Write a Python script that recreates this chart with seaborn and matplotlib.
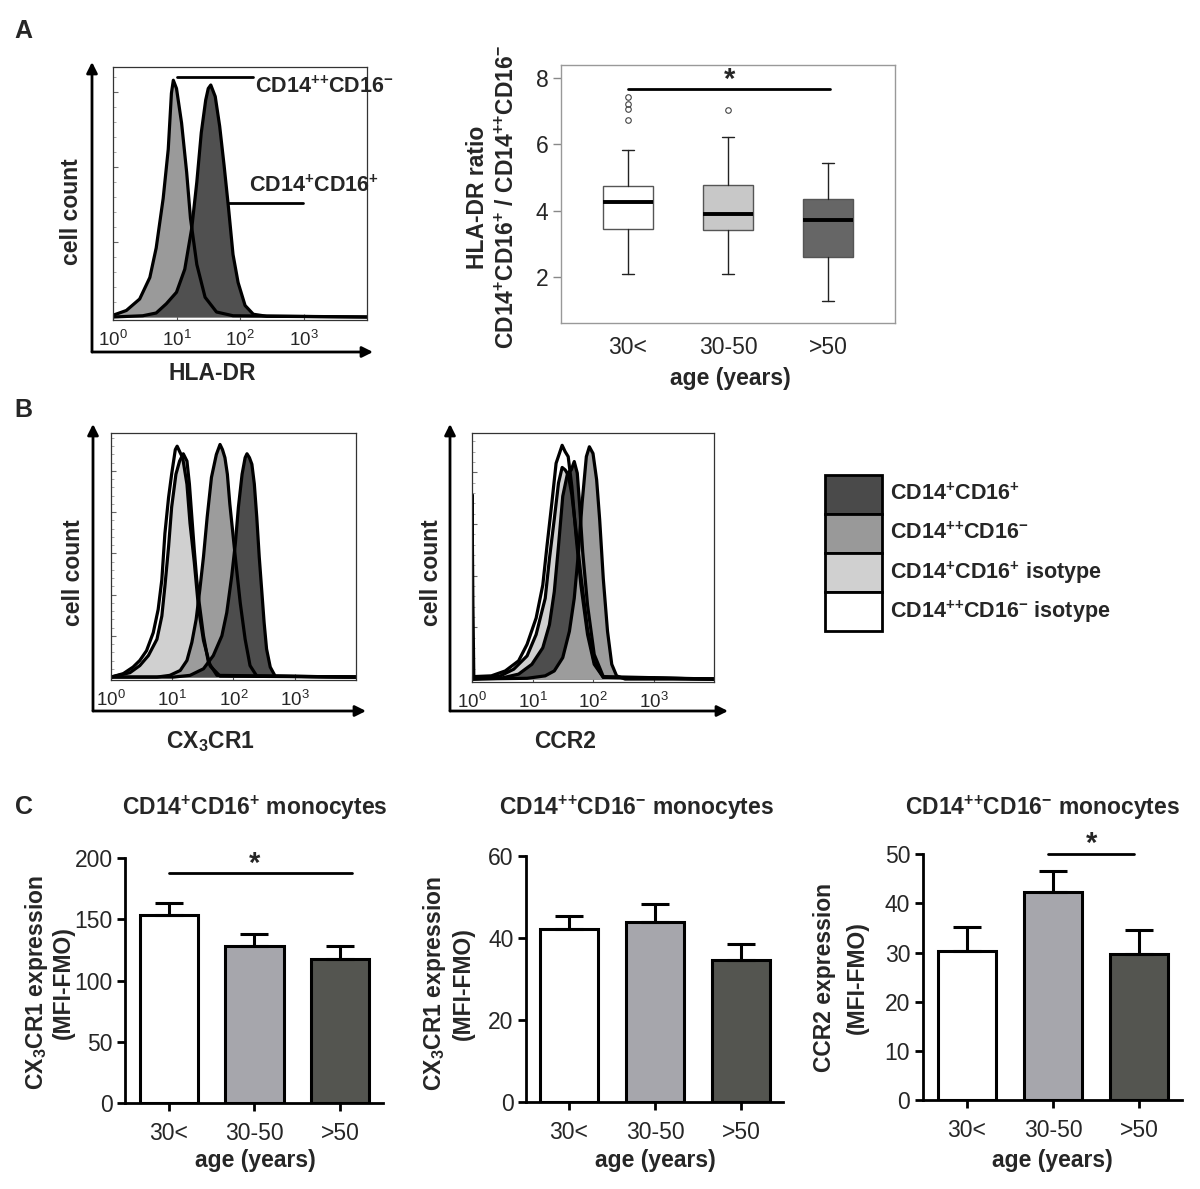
import numpy as np
import matplotlib
matplotlib.use("Agg")
import matplotlib.pyplot as plt
from matplotlib.patches import FancyArrowPatch, Rectangle
from matplotlib.ticker import MultipleLocator, LogLocator, NullFormatter
import seaborn as sns

# ---------------- data ----------------
# panel A histograms (log10 intensity, relative height)
a_mono_x = [0.0, 0.21, 0.42, 0.58, 0.68, 0.79, 0.87, 0.92, 0.95, 1.0, 1.08, 1.16, 1.22, 1.32, 1.45, 1.63, 1.89]
a_mono_y = [0.007, 0.026, 0.072, 0.158, 0.276, 0.474, 0.671, 0.895, 0.947, 0.914, 0.776, 0.579, 0.395, 0.21, 0.079, 0.02, 0.005]
a_cd16_x = [0.47, 0.68, 0.84, 1.0, 1.13, 1.24, 1.32, 1.39, 1.46, 1.5, 1.54, 1.61, 1.68, 1.75, 1.82, 1.89, 1.97, 2.08, 2.21, 2.42]
a_cd16_y = [0.005, 0.016, 0.053, 0.099, 0.191, 0.355, 0.54, 0.737, 0.868, 0.914, 0.928, 0.882, 0.763, 0.605, 0.434, 0.25, 0.138, 0.046, 0.011, 0.003]

# panel B, CX3CR1
cx_isohi_x = [0.0, 0.20, 0.36, 0.47, 0.58, 0.69, 0.77, 0.83, 0.88, 0.94, 0.99, 1.05, 1.08, 1.13, 1.17, 1.24, 1.29, 1.36, 1.43, 1.51, 1.62, 1.78]
cx_isohi_y = [0.0, 0.014, 0.041, 0.068, 0.108, 0.182, 0.277, 0.399, 0.588, 0.736, 0.831, 0.932, 0.946, 0.919, 0.899, 0.79, 0.63, 0.47, 0.28, 0.15, 0.045, 0.004]
cx_isolo_x = [0.0, 0.31, 0.47, 0.61, 0.75, 0.83, 0.88, 0.94, 0.99, 1.06, 1.12, 1.18, 1.24, 1.28, 1.32, 1.36, 1.40, 1.44, 1.51, 1.59, 1.73]
cx_isolo_y = [0.0, 0.018, 0.047, 0.088, 0.155, 0.25, 0.372, 0.534, 0.696, 0.831, 0.885, 0.915, 0.885, 0.791, 0.655, 0.52, 0.399, 0.304, 0.169, 0.061, 0.007]
cx_mono_x = [0.75, 0.96, 1.13, 1.24, 1.32, 1.39, 1.45, 1.51, 1.57, 1.64, 1.72, 1.78, 1.82, 1.86, 1.90, 1.94, 1.99, 2.04, 2.11, 2.19, 2.27, 2.38]
cx_mono_y = [0.0, 0.007, 0.027, 0.068, 0.142, 0.236, 0.358, 0.493, 0.655, 0.818, 0.912, 0.953, 0.932, 0.899, 0.831, 0.709, 0.588, 0.466, 0.304, 0.155, 0.047, 0.004]
cx_cd16_x = [1.02, 1.29, 1.51, 1.67, 1.81, 1.89, 1.97, 2.03, 2.08, 2.14, 2.19, 2.22, 2.26, 2.30, 2.34, 2.38, 2.42, 2.46, 2.50, 2.54, 2.60, 2.68]
cx_cd16_y = [0.0, 0.007, 0.034, 0.088, 0.169, 0.264, 0.412, 0.547, 0.696, 0.831, 0.899, 0.915, 0.899, 0.872, 0.791, 0.655, 0.493, 0.358, 0.223, 0.115, 0.041, 0.004]

# panel B, CCR2
cc_isohi_x = [0.0, 0.0, 0.015, 0.03, 0.32, 0.55, 0.77, 0.91, 1.06, 1.17, 1.24, 1.32, 1.39, 1.49, 1.54, 1.59, 1.65, 1.72, 1.80, 1.91, 2.02, 2.17]
cc_isohi_y = [0.0, 0.75, 0.3, 0.01, 0.013, 0.033, 0.074, 0.141, 0.248, 0.382, 0.542, 0.716, 0.877, 0.95, 0.924, 0.904, 0.783, 0.582, 0.382, 0.181, 0.06, 0.007]
cc_isolo_x = [0.18, 0.47, 0.69, 0.91, 1.06, 1.21, 1.28, 1.36, 1.43, 1.49, 1.54, 1.59, 1.65, 1.72, 1.80, 1.91, 2.02, 2.17]
cc_isolo_y = [0.003, 0.013, 0.04, 0.094, 0.181, 0.328, 0.489, 0.65, 0.797, 0.86, 0.85, 0.83, 0.75, 0.6, 0.42, 0.2, 0.07, 0.007]
cc_cd16_x = [0.47, 0.77, 0.99, 1.17, 1.28, 1.36, 1.43, 1.50, 1.58, 1.64, 1.69, 1.74, 1.78, 1.83, 1.91, 2.02, 2.17]
cc_cd16_y = [0.003, 0.02, 0.06, 0.127, 0.221, 0.355, 0.542, 0.743, 0.837, 0.85, 0.884, 0.837, 0.703, 0.516, 0.3, 0.1, 0.01]
cc_mono_x = [0.91, 1.21, 1.36, 1.50, 1.61, 1.69, 1.76, 1.82, 1.89, 1.94, 2.00, 2.06, 2.11, 2.17, 2.24, 2.31, 2.39, 2.53]
cc_mono_y = [0.003, 0.013, 0.033, 0.087, 0.194, 0.328, 0.516, 0.716, 0.904, 0.944, 0.917, 0.81, 0.649, 0.408, 0.194, 0.06, 0.013, 0.0]

# panel A boxplot (HLA-DR ratio)
age_groups = ["30<", "30-50", ">50"]
box_whislo = [2.08, 2.08, 1.28]
box_q1 = [3.45, 3.42, 2.60]
box_med = [4.26, 3.90, 3.72]
box_q3 = [4.75, 4.78, 4.36]
box_whishi = [5.82, 6.20, 5.42]
box_fliers = [[6.73, 7.05, 7.20, 7.41], [7.03], []]

# panel C bars
c1_vals = [153.3, 128.0, 117.2]
c1_err = [9.7, 9.6, 10.8]
c2_vals = [42.1, 43.8, 34.6]
c2_err = [3.3, 4.3, 3.8]
c3_vals = [30.3, 42.3, 29.7]
c3_err = [5.0, 4.2, 4.8]

# colours
col_dark = "#4d4d4d"
col_gray = "#9c9c9c"
col_light = "#d0d0d0"
box_colors = ["white", "#c8c8c8", "#666666"]
bar_colors = ["white", "#a5a5ad", "#55564f"]

# ---------------- style ----------------
sns.set_style("white")
plt.rcParams["font.family"] = ["Liberation Sans", "DejaVu Sans"]
plt.rcParams["mathtext.fontset"] = "custom"
plt.rcParams["mathtext.rm"] = "Liberation Sans"
plt.rcParams["mathtext.bf"] = "Liberation Sans:bold"
plt.rcParams["mathtext.it"] = "Liberation Sans:italic"

P = r"$^{\mathbf{+}}$"
PP = r"$^{\mathbf{+\!+}}\!$"
M = r"$^{\mathbf{-}}$"
CD16pos = "CD14" + P + "CD16" + P
CD16neg = "CD14" + PP + "CD16" + M
CX3 = r"CX$_{\mathbf{3}}$CR1"

W, H = 1200, 1189
FS = 16.5
fig = plt.figure(figsize=(12, 11.89), dpi=100)


def px_axes(l, t, r, b):
    return fig.add_axes([l / W, 1 - b / H, (r - l) / W, (b - t) / H])


def ftext(x, y, s, **kw):
    kw.setdefault("ha", "center")
    kw.setdefault("va", "center")
    fig.text(x / W, 1 - y / H, s, **kw)


def arrow(x0, y0, x1, y1):
    fig.add_artist(FancyArrowPatch((x0 / W, 1 - y0 / H), (x1 / W, 1 - y1 / H),
                                   transform=fig.transFigure, arrowstyle="-|>",
                                   mutation_scale=16, lw=2, color="black",
                                   shrinkA=0, shrinkB=0))


def fline(x0, x1, y):
    fig.add_artist(plt.Line2D([x0 / W, x1 / W], [1 - y / H, 1 - y / H],
                              transform=fig.transFigure, color="black", lw=2))


def hist_panel(ax, curves, ymajor):
    ax.set_xscale("log")
    for xs, ys, col in curves:
        lx = 10 ** np.array([0.0] + xs + [4.0])
        ly = [0.0] + ys + [0.0]
        ax.fill_between(lx, ly, 0, color=col, lw=0)
        sns.lineplot(x=lx, y=ly, ax=ax, color="black", lw=2.3, sort=False, estimator=None)
    ax.set_xlim(1, 1e4)
    ax.set_ylim(-0.012, 1)
    ax.set_xticks([1, 10, 100, 1000])
    ax.set_xticklabels([r"$\mathrm{10^{0}}$", r"$\mathrm{10^{1}}$", r"$\mathrm{10^{2}}$", r"$\mathrm{10^{3}}$"])
    ax.xaxis.set_minor_locator(LogLocator(base=10, subs=np.arange(2, 10)))
    ax.xaxis.set_minor_formatter(NullFormatter())
    ax.yaxis.set_major_locator(MultipleLocator(ymajor))
    ax.yaxis.set_minor_locator(MultipleLocator(ymajor / 5))
    ax.set_yticklabels([])
    ax.tick_params(axis="x", which="major", direction="in", length=4, width=0.8, color="#555",
                   labelsize=13.5, pad=7, bottom=True)
    ax.tick_params(axis="x", which="minor", direction="in", length=2.5, width=0.6, color="#777", bottom=True)
    ax.tick_params(axis="y", which="major", direction="in", length=3.5, width=0.8, color="#666", left=True)
    ax.tick_params(axis="y", which="minor", direction="in", length=2, width=0.5, color="#888", left=True)
    for s in ax.spines.values():
        s.set_color("#333")
        s.set_linewidth(0.9)
    ax.set_xlabel("")
    ax.set_ylabel("")


# ---------------- panel A: histogram ----------------
axA = px_axes(113, 67, 367, 320)
hist_panel(axA, [(a_mono_x, a_mono_y, "#9a9a9a"), (a_cd16_x, a_cd16_y, "#505050")], 0.3)
arrow(92, 352, 92, 62)
arrow(92, 352, 373, 352)
ftext(72, 212, "cell count", rotation=90, fontsize=FS, fontweight="bold")
ftext(212, 374, "HLA-DR", fontsize=FS, fontweight="bold")
fline(177, 253, 77)
ftext(255, 87, CD16neg, ha="left", fontsize=15.5, fontweight="bold")
fline(228, 303, 203)
ftext(249, 186, CD16pos, ha="left", fontsize=15.5, fontweight="bold")

# ---------------- panel A: boxplot ----------------
axBox = px_axes(561, 65, 895, 323)
stats = []
for i in range(3):
    stats.append(dict(med=box_med[i], q1=box_q1[i], q3=box_q3[i], whislo=box_whislo[i],
                      whishi=box_whishi[i], fliers=box_fliers[i]))
bp = axBox.bxp(stats, positions=[0, 1, 2], widths=0.5, patch_artist=True, showfliers=True,
               boxprops=dict(edgecolor="#555555", lw=1.0),
               medianprops=dict(color="black", lw=2.8),
               whiskerprops=dict(color="#222222", lw=1.0),
               capprops=dict(color="#222222", lw=1.0),
               flierprops=dict(marker="o", mfc="none", mec="#444444", ms=4, mew=0.8),
               capwidths=0.12)
for patch, c in zip(bp["boxes"], box_colors):
    patch.set_facecolor(c)
axBox.set_xlim(-0.67, 2.67)
axBox.set_ylim(0.62, 8.38)
axBox.set_xticks([0, 1, 2])
axBox.set_xticklabels(age_groups)
axBox.set_yticks([2, 4, 6, 8])
axBox.tick_params(axis="x", length=0, labelsize=FS, pad=9)
axBox.tick_params(axis="y", direction="out", length=6, width=1, color="#888", labelsize=FS, pad=3, left=True)
for s in axBox.spines.values():
    s.set_color("#999999")
    s.set_linewidth(1.0)
axBox.plot([0, 2.02], [7.66, 7.66], color="black", lw=2, clip_on=False)
axBox.text(1.02, 7.68, "*", ha="center", va="baseline", fontsize=21, fontweight="bold")
ftext(730, 378, "age (years)", fontsize=FS, fontweight="bold")
ftext(478, 197, "HLA-DR ratio", rotation=90, fontsize=FS, fontweight="bold")
ftext(507, 197, CD16pos + " / " + CD16neg, rotation=90, fontsize=FS, fontweight="bold")

# ---------------- panel B: histograms ----------------
axCX = px_axes(111, 433, 356, 680)
hist_panel(axCX, [(cx_isohi_x, cx_isohi_y, "white"), (cx_isolo_x, cx_isolo_y, col_light),
                  (cx_mono_x, cx_mono_y, col_gray), (cx_cd16_x, cx_cd16_y, col_dark)], 0.169)
arrow(93, 711, 93, 424)
arrow(93, 711, 366, 711)
ftext(73, 573, "cell count", rotation=90, fontsize=FS, fontweight="bold")
ftext(210, 742, CX3, fontsize=FS, fontweight="bold")

axCC = px_axes(472, 433, 714, 682)
hist_panel(axCC, [(cc_isohi_x, cc_isohi_y, "white"), (cc_isolo_x, cc_isolo_y, col_light),
                  (cc_cd16_x, cc_cd16_y, col_dark), (cc_mono_x, cc_mono_y, col_gray)], 0.21)
arrow(450, 711, 450, 424)
arrow(450, 711, 728, 711)
ftext(432, 573, "cell count", rotation=90, fontsize=FS, fontweight="bold")
ftext(565, 742, "CCR2", fontsize=FS, fontweight="bold")

# legend
leg_labels = [CD16pos, CD16neg, CD16pos + " isotype", CD16neg + " isotype"]
leg_colors = ["#4a4a4a", "#999999", "#d0d0d0", "white"]
leg_top = [475, 514, 553, 592]
for lab, c, t in zip(leg_labels, leg_colors, leg_top):
    fig.add_artist(Rectangle((825 / W, 1 - (t + 39) / H), 57 / W, 39 / H, transform=fig.transFigure,
                             facecolor=c, edgecolor="black", lw=2))
    ftext(890, t + 19.5, lab, ha="left", fontsize=15.5, fontweight="bold")

# ---------------- panel C: bars ----------------
def bar_panel(box, vals, errs, ylim, ystep, xlim):
    ax = px_axes(*box)
    sns.barplot(x=age_groups, y=vals, hue=age_groups, palette=dict(zip(age_groups, bar_colors)),
                legend=False, errorbar=None, width=0.68, edgecolor="black", linewidth=2.2, ax=ax)
    ax.errorbar([0, 1, 2], vals, yerr=[[0, 0, 0], errs], fmt="none", ecolor="black",
                elinewidth=2.2, capsize=10, capthick=2.2, zorder=1)
    ax.set_xlim(*xlim)
    ax.set_ylim(0, ylim)
    ax.yaxis.set_major_locator(MultipleLocator(ystep))
    sns.despine(ax=ax)
    for s in ["left", "bottom"]:
        ax.spines[s].set_color("black")
        ax.spines[s].set_linewidth(2)
    ax.tick_params(axis="both", direction="out", length=6, width=2, color="black",
                   labelsize=FS, left=True, bottom=True)
    ax.tick_params(axis="x", pad=8)
    ax.tick_params(axis="y", pad=3)
    ax.set_xlabel("")
    ax.set_ylabel("")
    return ax


axC1 = bar_panel((125, 858, 383, 1103), c1_vals, c1_err, 200, 50, (-0.51, 2.5))
axC1.plot([0, 2.14], [187.7, 187.7], color="black", lw=2, clip_on=False)
axC1.text(1.0, 188.5, "*", ha="center", va="baseline", fontsize=21, fontweight="bold", clip_on=False)
ftext(255, 808, "CD14" + P + "CD16" + P + " monocytes", fontsize=FS, fontweight="bold")
ftext(37, 983, CX3 + " expression", rotation=90, fontsize=FS, fontweight="bold")
ftext(63, 983, "(MFI-FMO)", rotation=90, fontsize=FS, fontweight="bold")
ftext(255, 1160, "age (years)", fontsize=FS, fontweight="bold")

axC2 = bar_panel((526, 855.7, 783, 1101.7), c2_vals, c2_err, 60, 20, (-0.5, 2.49))
ftext(636, 808, "CD14" + PP + "CD16" + M + " monocytes", fontsize=FS, fontweight="bold")
ftext(434, 984, CX3 + " expression", rotation=90, fontsize=FS, fontweight="bold")
ftext(463, 984, "(MFI-FMO)", rotation=90, fontsize=FS, fontweight="bold")
ftext(655, 1160, "age (years)", fontsize=FS, fontweight="bold")

axC3 = bar_panel((922.7, 854.3, 1182, 1100), c3_vals, c3_err, 50, 10, (-0.515, 2.5))
axC3.plot([0.94, 1.94], [50.1, 50.1], color="black", lw=2, clip_on=False)
axC3.text(1.45, 50.4, "*", ha="center", va="baseline", fontsize=21, fontweight="bold", clip_on=False)
ftext(1042, 808, "CD14" + PP + "CD16" + M + " monocytes", fontsize=FS, fontweight="bold")
ftext(825, 978, "CCR2 expression", rotation=90, fontsize=FS, fontweight="bold")
ftext(857, 978, "(MFI-FMO)", rotation=90, fontsize=FS, fontweight="bold")
ftext(1052, 1160, "age (years)", fontsize=FS, fontweight="bold")

# panel letters
ftext(23, 31, "A", fontsize=18, fontweight="bold")
ftext(23, 410, "B", fontsize=18, fontweight="bold")
ftext(24, 807, "C", fontsize=18, fontweight="bold")

fig.savefig("out.png", dpi=100)
